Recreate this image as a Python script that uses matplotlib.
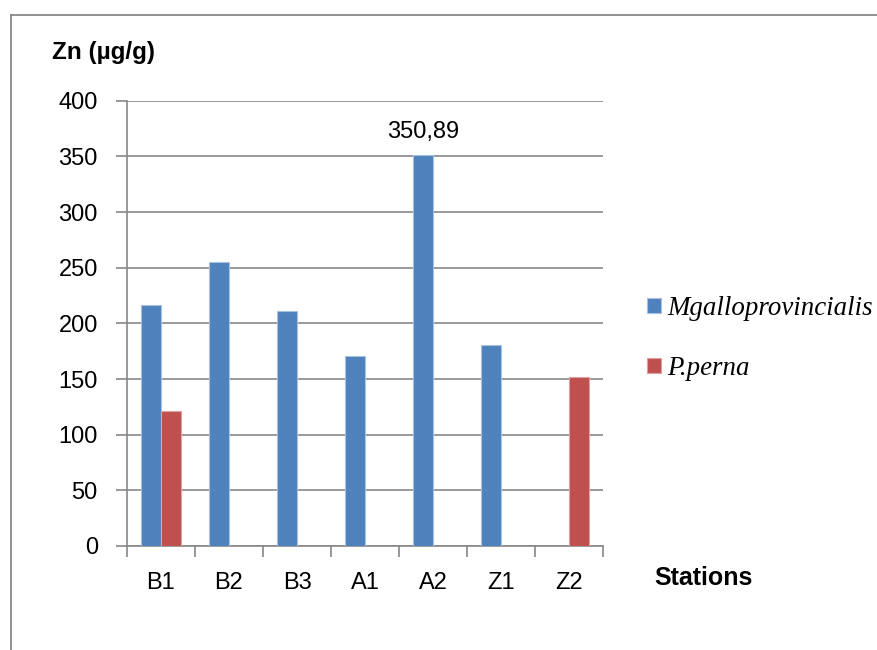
import numpy as np
import matplotlib.pyplot as plt
from matplotlib.lines import Line2D

# Zn concentration per station
stations = ["B1", "B2", "B3", "A1", "A2", "Z1", "Z2"]
galloprovincialis = [216.8, 254.7, 211.4, 170.4, 350.89, 180.9, np.nan]
perna = [121.7, np.nan, np.nan, np.nan, np.nan, np.nan, 151.8]

sans = ["Liberation Sans", "DejaVu Sans"]
serif = ["Liberation Serif", "DejaVu Serif"]
grey = "#878787"

fig = plt.figure(figsize=(8.77, 6.5), dpi=100)
ax = fig.add_axes([0.1448, 0.16, 0.5428, 0.685])

x = np.arange(len(stations))
w = 0.294
b1 = ax.bar(x - w / 2, galloprovincialis, w, color="#4F81BD",
            edgecolor="#A9C1E0", linewidth=0.8, label="Mgalloprovincialis", zorder=3)
b2 = ax.bar(x + w / 2, perna, w, color="#C0504D",
            edgecolor="#DDA3A1", linewidth=0.8, label="P.perna", zorder=3)

# value label on the A2 bar only
a2 = galloprovincialis[4]
ax.text(x[4] - w / 2, a2 + 21, f"{a2:.2f}".replace(".", ","),
        ha="center", va="center", fontsize=17, family=sans)

ax.set_xlim(-0.5, len(stations) - 0.5)
ax.set_ylim(0, 400)
ax.set_yticks(range(0, 401, 50))
ax.grid(axis="y", color=grey, linewidth=1.2, zorder=0)

ax.set_xticks(x)
ax.set_xticklabels(stations, fontsize=17, family=sans)
ax.set_xticks(np.arange(-0.5, len(stations)), minor=True)
ax.tick_params(axis="x", which="major", length=0, pad=19)
ax.tick_params(axis="x", which="minor", length=8, width=1.2, color=grey, direction="out")
ax.tick_params(axis="y", length=8, width=1.2, color=grey, pad=13)
for lbl in ax.get_yticklabels():
    lbl.set_fontsize(17)
    lbl.set_family(sans)

for side in ["top", "right"]:
    ax.spines[side].set_visible(False)
for side in ["left", "bottom"]:
    ax.spines[side].set_color(grey)
    ax.spines[side].set_linewidth(1.2)

fig.text(52 / 877, 1 - 53 / 650, "Zn (µg/g)", fontsize=17.5, fontweight="bold",
         family=sans, va="center", ha="left")
fig.text(654 / 877, 1 - 578 / 650, "Stations", fontsize=18, fontweight="bold",
         family=sans, va="center", ha="left")

leg = fig.legend(handles=[b1, b2], loc="upper left", bbox_to_anchor=(647 / 877, 1 - 296 / 650),
                 frameon=False, handlelength=0.52, handleheight=0.52, handletextpad=0.22,
                 labelspacing=1.3, borderaxespad=0, borderpad=0,
                 prop={"family": serif, "style": "italic", "size": 19.4})

# outer frame lines
fig.add_artist(Line2D([11 / 877, 11 / 877], [0, 1 - 15 / 650], color=grey, lw=1.3))
fig.add_artist(Line2D([11 / 877, 1], [1 - 15 / 650, 1 - 15 / 650], color=grey, lw=1.3))

fig.savefig("out.png", dpi=100)
